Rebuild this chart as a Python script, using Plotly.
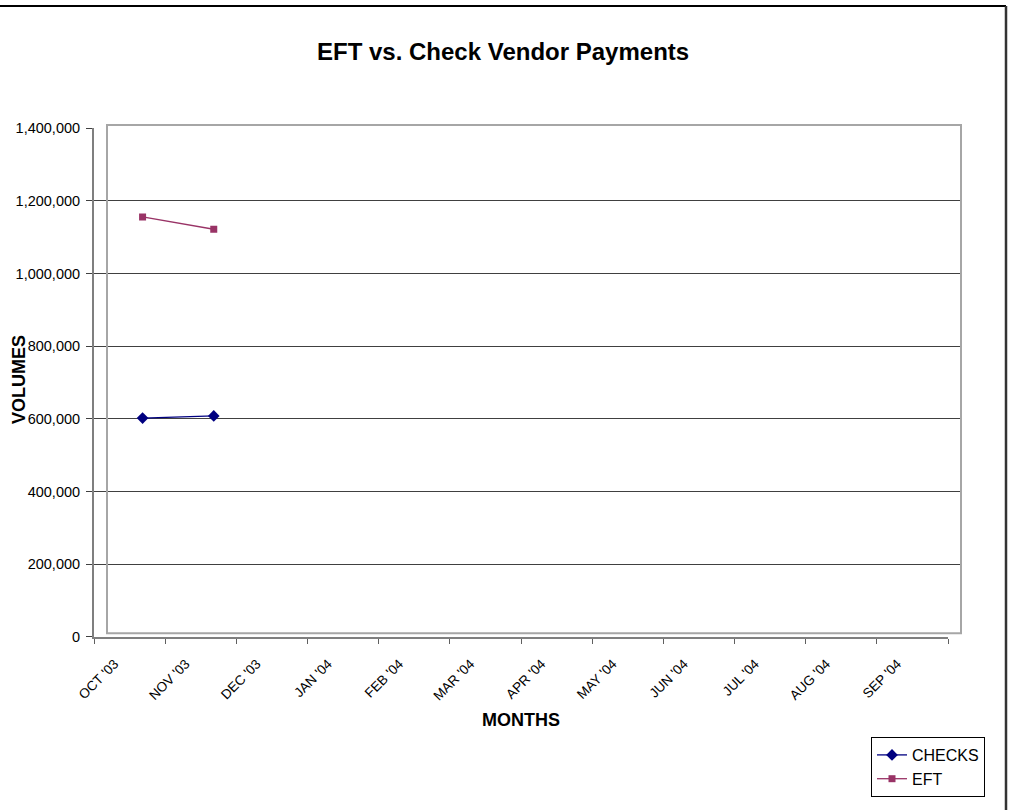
import plotly.graph_objects as go

months = ["OCT '03", "NOV '03", "DEC '03", "JAN '04", "FEB '04", "MAR '04",
          "APR '04", "MAY '04", "JUN '04", "JUL '04", "AUG '04", "SEP '04"]
checks_months = ["OCT '03", "NOV '03"]
checks = [602000, 608000]
eft_months = ["OCT '03", "NOV '03"]
eft = [1156000, 1122000]
y_ticks = [0, 200000, 400000, 600000, 800000, 1000000, 1200000, 1400000]

W, H = 1013, 810
FONT = "Liberation Sans, Arial, Helvetica, sans-serif"

def px(x):
    return x / W

def py(y):
    return 1 - y / H

fig = go.Figure()

# dummy trace registering all categories on the visible axis
fig.add_trace(go.Scatter(x=months, y=[None] * len(months), mode="lines",
                         showlegend=False, hoverinfo="skip", xaxis="x", yaxis="y"))

fig.add_trace(go.Scatter(x=checks_months, y=checks, name="CHECKS", mode="lines+markers",
                         line=dict(color="#000080", width=1.3),
                         marker=dict(symbol="diamond", size=9, color="#000080"),
                         xaxis="x2", yaxis="y"))
fig.add_trace(go.Scatter(x=eft_months, y=eft, name="EFT", mode="lines+markers",
                         line=dict(color="#993366", width=1.3),
                         marker=dict(symbol="square", size=7, color="#993366"),
                         xaxis="x2", yaxis="y"))

fig.update_layout(
    width=W, height=H,
    margin=dict(l=0, r=0, t=0, b=0, autoexpand=False),
    paper_bgcolor="white",
    plot_bgcolor="rgba(0,0,0,0)",
    font=dict(family=FONT, color="black"),
    showlegend=True,
    legend=dict(x=px(871), y=py(797), xanchor="left", yanchor="bottom",
                bgcolor="white", bordercolor="black", borderwidth=1,
                font=dict(size=16, family=FONT), tracegroupgap=0,
                itemwidth=30),
    xaxis=dict(domain=[px(94), px(948)], anchor="y", type="category",
               categoryorder="array", categoryarray=months,
               range=[-0.5, 11.5], tickson="boundaries", ticks="outside",
               ticklen=5, tickcolor="#606060", tickwidth=1,
               tickangle=-45, tickfont=dict(size=13.5, family=FONT),
               ticklabelstandoff=12, ticklabelshift=-15,
               showgrid=False, showline=True, linecolor="#7f7f7f", linewidth=2,
               zeroline=False, fixedrange=True),
    xaxis2=dict(domain=[px(107), px(961)], anchor="y", type="category",
                categoryorder="array", categoryarray=months,
                range=[-0.5, 11.5], visible=False, fixedrange=True),
    yaxis=dict(domain=[py(636.7), py(128.3)], anchor="x", range=[0, 1400000],
               tickvals=y_ticks, tickformat=",d", ticks="outside", ticklen=6,
               tickcolor="#404040", tickwidth=1, ticklabelstandoff=3,
               tickfont=dict(size=14.5, family=FONT),
               showgrid=True, gridcolor="#404040", gridwidth=1,
               showline=True, linecolor="#7f7f7f", linewidth=2,
               zeroline=False, fixedrange=True),
)

shapes = [
    # plot-area frame (offset, light gray)
    dict(type="rect", xref="paper", yref="paper", x0=px(107), x1=px(961),
         y0=py(633.3), y1=py(125), line=dict(color="#a6a6a6", width=2), layer="above"),
    # outer chart border (top and right)
    dict(type="line", xref="paper", yref="paper", x0=0, x1=px(1006),
         y0=py(6), y1=py(6), line=dict(color="black", width=2)),
    dict(type="line", xref="paper", yref="paper", x0=px(1006), x1=px(1006),
         y0=py(6), y1=0, line=dict(color="#333333", width=2.5)),
]
fig.update_layout(shapes=shapes)

annotations = [
    dict(text="<b>EFT vs. Check Vendor Payments</b>", x=px(503), y=py(51),
         xref="paper", yref="paper", xanchor="center", yanchor="middle",
         showarrow=False, font=dict(size=24, family=FONT)),
    dict(text="<b>VOLUMES</b>", x=px(19), y=py(380), xref="paper", yref="paper",
         xanchor="center", yanchor="middle", textangle=-90, showarrow=False,
         font=dict(size=18, family=FONT)),
    dict(text="<b>MONTHS</b>", x=px(521), y=py(720), xref="paper", yref="paper",
         xanchor="center", yanchor="middle", showarrow=False,
         font=dict(size=18, family=FONT)),
]
fig.update_layout(annotations=annotations)

fig.write_html("out.html", config={"displayModeBar": False},
               post_script="document.body.style.margin='0';document.body.style.overflow='hidden';")
